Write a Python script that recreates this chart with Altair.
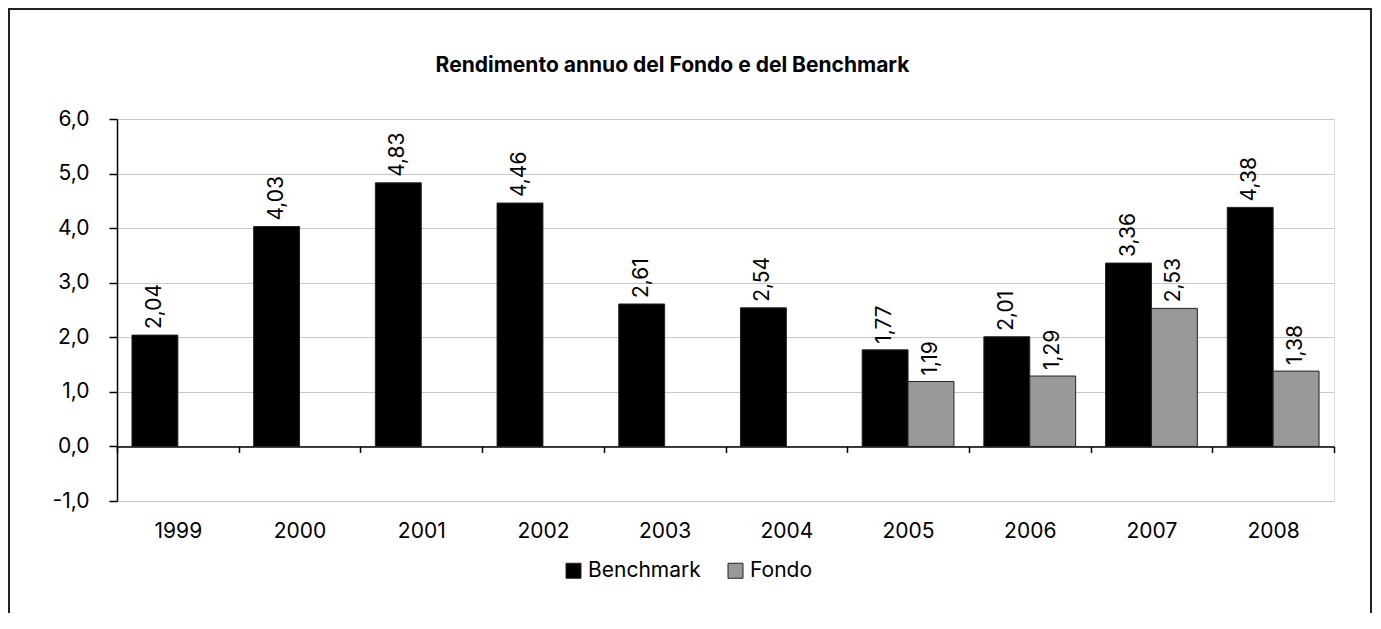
import altair as alt
import pandas as pd

years = ["1999", "2000", "2001", "2002", "2003", "2004", "2005", "2006", "2007", "2008"]
benchmark = [2.04, 4.03, 4.83, 4.46, 2.61, 2.54, 1.77, 2.01, 3.36, 4.38]
fondo_years = ["2005", "2006", "2007", "2008"]
fondo = [1.19, 1.29, 2.53, 1.38]
series_names = ["Benchmark", "Fondo"]
series_colors = ["#000000", "#999999"]
y_ticks = [-1, 0, 1, 2, 3, 4, 5, 6]
title_text = "Rendimento annuo del Fondo e del Benchmark"

rows = [{"anno": y, "serie": "Benchmark", "valore": v} for y, v in zip(years, benchmark)]
rows += [{"anno": y, "serie": "Fondo", "valore": v} for y, v in zip(fondo_years, fondo)]
df = pd.DataFrame(rows)

FONT = "Inter"
W, H = 1217, 382
MINUS = "\u2212"

x_enc = alt.X(
    "anno:N",
    sort=years,
    scale=alt.Scale(paddingInner=0, paddingOuter=0),
    axis=alt.Axis(
        title=None,
        orient="bottom",
        offset=-H / 7,
        domainColor="#000000",
        domainWidth=1.5,
        tickColor="#000000",
        tickWidth=1.5,
        tickSize=6,
        tickBand="extent",
        labelAngle=0,
        labelPadding=68,
        labelFont=FONT,
        labelFontSize=21,
        labelColor="#000000",
        grid=False,
    ),
)
xo_enc = alt.XOffset("serie:N", sort=series_names,
                     scale=alt.Scale(domain=series_names, paddingInner=0, paddingOuter=0.326))
y_enc = alt.Y(
    "valore:Q",
    scale=alt.Scale(domain=[-1, 6], nice=False, zero=False),
    axis=alt.Axis(
        title=None,
        values=y_ticks,
        domainColor="#000000",
        domainWidth=1.5,
        tickColor="#000000",
        tickWidth=1.5,
        tickSize=8,
        labelPadding=20,
        labelFont=FONT,
        labelFontSize=21,
        labelColor="#000000",
        labelExpr="replace(replace(format(datum.value, '.1f'), '.', ','), '" + MINUS + "', '-')",
        grid=True,
        gridColor="#c8c8c8",
        gridWidth=1,
    ),
)

base = alt.Chart(df)

bars = base.mark_bar(stroke="#222222", strokeWidth=1).encode(
    x=x_enc,
    xOffset=xo_enc,
    y=y_enc,
    color=alt.Color(
        "serie:N",
        scale=alt.Scale(domain=series_names, range=series_colors),
        legend=alt.Legend(
            title=None,
            orient="none",
            legendX=446,
            legendY=441,
            direction="horizontal",
            symbolType="square",
            symbolSize=225,
            symbolStrokeColor="#222222",
            symbolStrokeWidth=1,
            labelFont=FONT,
            labelFontSize=21,
            labelColor="#000000",
            labelOffset=4,
            columnPadding=24,
            padding=0,
        ),
    ),
)

labels = base.transform_calculate(
    etichetta="replace(format(datum.valore, '.2f'), '.', ',')"
).mark_text(
    angle=270, align="left", baseline="middle", dx=6,
    font=FONT, fontSize=21, color="#000000",
).encode(
    x=alt.X("anno:N", sort=years),
    xOffset=alt.XOffset("serie:N", sort=series_names),
    y=alt.Y("valore:Q"),
    text="etichetta:N",
)

border = alt.Chart(alt.Data(values=[{}])).mark_rect(
    fillOpacity=0, stroke="#222222", strokeWidth=2
).encode(
    x=alt.value(-108), x2=alt.value(1254), y=alt.value(-110), y2=alt.value(620)
)

chart = alt.layer(border, bars, labels).properties(
    width=W,
    height=H,
    autosize=alt.AutoSizeParams(type="none"),
    padding={"left": 109, "top": 111, "right": 39, "bottom": 112},
    title=alt.TitleParams(
        text=title_text,
        font=FONT,
        fontSize=21,
        fontWeight="bold",
        color="#000000",
        anchor="middle",
        frame="group",
        baseline="alphabetic",
        dx=-53,
        offset=-85,
    ),
).configure_view(strokeWidth=0).configure(background="#ffffff")

chart.save("out.html", embed_options={"renderer": "svg", "actions": False})
